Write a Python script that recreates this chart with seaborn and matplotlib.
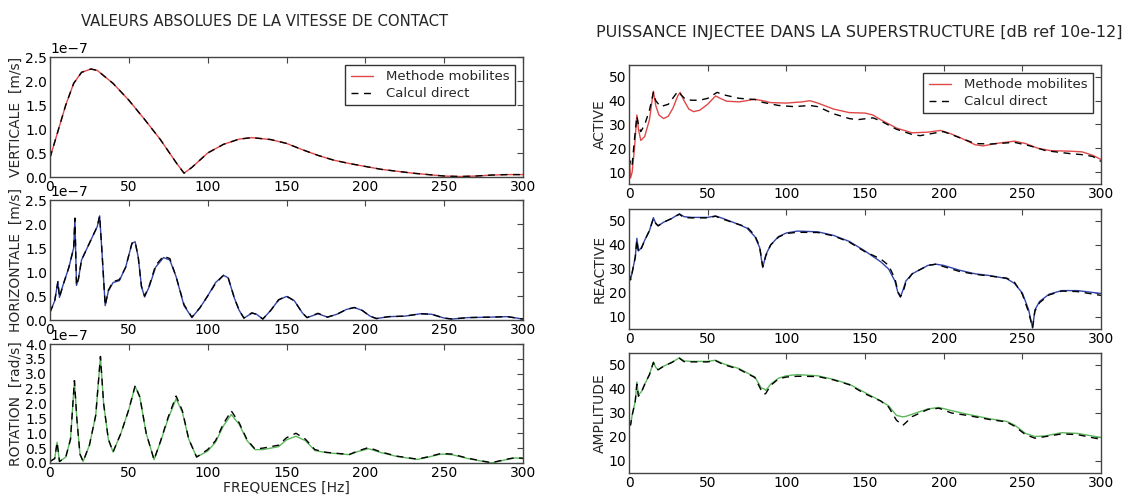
import numpy as np
import pandas as pd
import seaborn as sns
import matplotlib
matplotlib.use("Agg")
import matplotlib.pyplot as plt

# ---------------- DATA ----------------
# VERTICALE [m/s] (x1e-7)
vert_f = [0, 5, 10, 15, 20, 26, 30, 40, 50, 60, 70, 80, 85, 90, 100, 110, 120, 128, 140, 150,
          160, 170, 180, 190, 200, 210, 220, 230, 240, 250, 260, 270, 280, 290, 300]
vert_mob = [0.40, 0.95, 1.50, 1.95, 2.18, 2.25, 2.22, 1.95, 1.60, 1.20, 0.78, 0.30, 0.08, 0.20, 0.50,
            0.68, 0.79, 0.82, 0.78, 0.70, 0.57, 0.45, 0.35, 0.28, 0.22, 0.16, 0.12, 0.08, 0.05, 0.02,
            0.01, 0.02, 0.04, 0.05, 0.05]
vert_dir = [0.40, 0.95, 1.50, 1.95, 2.18, 2.25, 2.22, 1.95, 1.60, 1.20, 0.78, 0.30, 0.08, 0.20, 0.50,
            0.68, 0.79, 0.82, 0.78, 0.70, 0.57, 0.45, 0.35, 0.28, 0.22, 0.16, 0.12, 0.08, 0.05, 0.02,
            0.01, 0.02, 0.04, 0.05, 0.05]

# HORIZONTALE [m/s] (x1e-7)
hor_f = [0, 3, 5, 6, 8, 12, 15, 15.8, 16.8, 18, 20, 25, 30, 31.5, 33, 35, 37, 40, 44, 48, 52, 54,
         56, 58, 60, 63, 67, 72, 76, 80, 85, 90, 95, 100, 105, 110, 113, 117, 120, 123, 128, 131,
         135, 140, 145, 150, 155, 160, 163, 170, 176, 182, 188, 193, 198, 203, 207, 215, 225, 235,
         242, 250, 255, 265, 280, 290, 300]
hor_mob = [0.16, 0.40, 0.80, 0.47, 0.70, 1.10, 1.50, 2.12, 0.72, 0.85, 1.25, 1.60, 1.95, 2.17, 1.40,
           0.30, 0.60, 0.78, 0.82, 1.10, 1.60, 1.63, 1.30, 0.70, 0.48, 0.70, 1.10, 1.30, 1.25, 0.90,
           0.30, 0.05, 0.25, 0.50, 0.78, 0.93, 0.88, 0.45, 0.20, 0.04, 0.14, 0.12, 0.02, 0.20, 0.42,
           0.49, 0.40, 0.15, 0.05, 0.13, 0.06, 0.12, 0.22, 0.26, 0.20, 0.08, 0.03, 0.07, 0.08, 0.13,
           0.12, 0.04, 0.02, 0.05, 0.06, 0.07, 0.02]
hor_dir = [0.16, 0.40, 0.80, 0.47, 0.70, 1.10, 1.50, 2.12, 0.72, 0.85, 1.25, 1.60, 1.95, 2.17, 1.40,
           0.30, 0.62, 0.80, 0.84, 1.10, 1.60, 1.63, 1.30, 0.70, 0.50, 0.72, 1.14, 1.33, 1.28, 0.90,
           0.32, 0.06, 0.25, 0.50, 0.76, 0.93, 0.88, 0.45, 0.20, 0.04, 0.15, 0.12, 0.02, 0.20, 0.42,
           0.50, 0.40, 0.15, 0.05, 0.14, 0.06, 0.12, 0.22, 0.26, 0.20, 0.08, 0.03, 0.07, 0.08, 0.13,
           0.12, 0.04, 0.02, 0.05, 0.06, 0.07, 0.02]

# ROTATION [rad/s] (x1e-7)
rot_f = [0, 3, 4.5, 6, 10, 13, 15.5, 17, 19, 21, 25, 29, 32, 34, 37, 40, 45, 50, 54, 57, 61, 66,
         70, 75, 80, 84, 88, 93, 100, 105, 110, 115, 120, 125, 130, 135, 140, 145, 150, 156, 162,
         168, 175, 185, 190, 195, 202, 210, 220, 233, 240, 248, 255, 265, 280, 290, 295, 300]
rot_mob = [0.05, 0.15, 0.70, 0.05, 0.20, 0.80, 2.77, 1.50, 0.30, 0.05, 0.60, 1.60, 3.58, 2.00, 0.80,
           0.37, 1.00, 1.80, 2.58, 2.20, 1.00, 0.11, 0.70, 1.50, 2.16, 1.70, 0.80, 0.20, 0.40, 0.70,
           1.25, 1.63, 1.30, 0.75, 0.45, 0.45, 0.50, 0.55, 0.78, 0.90, 0.75, 0.42, 0.35, 0.30, 0.28,
           0.38, 0.48, 0.35, 0.22, 0.12, 0.20, 0.30, 0.28, 0.15, 0.00, 0.12, 0.17, 0.15]
rot_dir = [0.05, 0.15, 0.70, 0.05, 0.20, 0.80, 2.77, 1.50, 0.30, 0.05, 0.60, 1.60, 3.58, 2.00, 0.80,
           0.37, 1.00, 1.80, 2.60, 2.22, 1.00, 0.11, 0.72, 1.55, 2.25, 1.75, 0.80, 0.20, 0.45, 0.75,
           1.32, 1.75, 1.35, 0.78, 0.47, 0.50, 0.55, 0.60, 0.85, 1.00, 0.80, 0.45, 0.36, 0.31, 0.29,
           0.40, 0.52, 0.37, 0.23, 0.13, 0.21, 0.32, 0.30, 0.16, 0.01, 0.13, 0.18, 0.16]

# ACTIVE [dB]
act_f_mob = [0, 1, 2, 3.5, 5, 6, 7.5, 10, 13, 15.5, 17, 19, 22, 25, 28, 31, 32.5, 35, 38, 41, 45, 50,
             55, 58, 62, 70, 80, 85, 90, 100, 110, 115, 120, 130, 140, 150, 155, 160, 170, 180, 190,
             198, 205, 212, 220, 225, 233, 245, 252, 260, 268, 280, 288, 295, 300]
act_mob = [17.0, 7.5, 10.0, 20.0, 34.0, 28.0, 23.3, 25.0, 32.0, 44.0, 38.0, 34.0, 32.5, 33.5, 37.0,
           42.0, 43.5, 40.0, 36.5, 35.4, 36.0, 38.5, 42.0, 41.0, 39.8, 39.5, 40.6, 40.0, 39.2, 39.0,
           39.5, 40.0, 39.0, 36.5, 35.0, 34.8, 34.0, 32.0, 28.5, 26.5, 26.8, 27.5, 26.0, 24.0, 21.5,
           21.0, 22.0, 23.0, 22.0, 20.0, 19.0, 18.8, 18.5, 17.0, 15.3]
act_f_dir = [0, 1, 2, 3.5, 5, 6, 7.5, 10, 13, 15.5, 17, 20, 25, 30, 31.5, 33, 36, 40, 45, 50, 56, 60,
             70, 80, 85, 95, 105, 115, 120, 130, 140, 145, 155, 160, 170, 180, 185, 195, 200, 210,
             220, 230, 245, 255, 265, 280, 290, 295, 300]
act_dir = [12.0, 15.0, 13.0, 24.0, 33.5, 30.0, 27.0, 30.0, 36.0, 43.5, 40.0, 37.5, 38.5, 43.0, 44.0,
           42.5, 40.5, 40.2, 40.2, 41.0, 43.5, 42.5, 41.0, 40.5, 39.3, 38.0, 37.5, 38.0, 37.5, 34.5,
           32.5, 32.0, 32.8, 31.5, 28.0, 25.8, 25.3, 26.5, 27.0, 24.5, 22.0, 21.8, 22.5, 21.0, 19.0,
           17.8, 17.2, 16.5, 14.5]

# REACTIVE [dB]
rea_f = [0, 1, 2, 4, 5, 6, 8, 10, 13, 15.5, 17, 18.5, 22, 27, 32, 35, 40, 50, 55, 60, 70, 75, 80,
         83, 85, 87, 90, 95, 100, 107, 120, 130, 140, 150, 160, 165, 169, 171, 172.5, 174, 176, 180,
         190, 195, 200, 210, 220, 230, 240, 245, 250, 254, 256.5, 258, 261, 267, 275, 285, 300]
rea_mob = [28.5, 25.5, 28.5, 35.0, 42.8, 37.5, 39.0, 42.0, 46.0, 51.4, 49.0, 48.0, 49.5, 51.0, 53.0,
           51.8, 51.5, 51.5, 52.1, 51.0, 48.5, 47.0, 43.5, 39.0, 30.6, 36.0, 40.0, 43.5, 45.0, 45.8,
           45.5, 44.0, 41.5, 37.5, 33.0, 30.0, 25.0, 20.0, 18.3, 21.0, 25.0, 28.0, 31.5, 32.0, 31.5,
           29.5, 28.0, 27.2, 26.0, 24.0, 20.0, 13.0, 5.4, 13.0, 16.5, 19.5, 21.0, 21.0, 19.8]
rea_dir = [28.0, 25.5, 28.5, 35.0, 42.0, 37.0, 38.8, 42.0, 46.0, 51.0, 49.0, 48.0, 49.5, 51.0, 52.8,
           51.4, 51.3, 51.3, 52.0, 50.7, 48.5, 47.5, 44.0, 39.5, 31.0, 35.5, 40.0, 43.3, 44.8, 45.3,
           45.2, 43.8, 41.2, 37.2, 34.2, 31.5, 26.0, 20.5, 18.5, 20.0, 24.5, 28.0, 31.5, 32.0, 31.0,
           29.0, 27.8, 27.0, 26.2, 24.5, 19.5, 12.0, 5.5, 12.5, 16.0, 19.2, 20.8, 20.6, 19.0]

# AMPLITUDE [dB]
amp_f = [0, 1, 2, 4, 5, 6, 8, 10, 13, 15.5, 17, 18.5, 22, 27, 32, 35, 40, 50, 55, 60, 70, 80, 84,
         86, 87, 90, 95, 100, 107, 120, 130, 140, 150, 160, 165, 170, 174, 176, 180, 190, 197, 205,
         215, 230, 240, 245, 252, 258, 265, 275, 285, 300]
amp_mob = [26.0, 25.0, 29.0, 35.0, 42.9, 37.5, 39.0, 42.0, 46.0, 51.3, 49.0, 48.0, 49.5, 51.0, 53.0,
           51.7, 51.5, 51.5, 52.0, 50.5, 48.5, 45.0, 40.5, 40.0, 39.4, 42.0, 44.5, 45.5, 46.0, 45.5,
           44.0, 42.0, 38.5, 35.0, 33.0, 29.0, 28.4, 28.6, 29.5, 31.7, 32.3, 31.0, 29.5, 27.5, 26.5,
           25.0, 21.5, 20.2, 20.5, 21.8, 21.5, 19.8]
amp_dir = [25.5, 25.0, 29.0, 35.0, 42.0, 37.0, 38.8, 42.0, 46.0, 51.0, 49.0, 48.0, 49.5, 51.0, 52.8,
           51.4, 51.3, 51.3, 51.8, 50.2, 48.2, 44.8, 39.5, 37.8, 38.2, 41.5, 44.2, 45.0, 45.3, 45.2,
           43.8, 41.8, 38.0, 35.0, 32.5, 27.0, 24.8, 26.0, 28.5, 31.5, 32.0, 30.0, 29.0, 27.2, 26.3,
           24.5, 21.0, 19.5, 20.2, 21.3, 21.0, 19.0]

# ---------------- STYLE ----------------
sns.set_style("white")
plt.rcParams.update({
    "font.family": ["DejaVu Sans"],
    "font.size": 10,
    "axes.edgecolor": "#444444",
    "axes.linewidth": 1.0,
    "xtick.direction": "in",
    "ytick.direction": "in",
    "xtick.top": True,
    "ytick.right": True,
    "xtick.major.size": 4,
    "ytick.major.size": 4,
    "xtick.major.pad": 2.5,
    "ytick.major.pad": 2.0,
    "xtick.color": "#444444",
    "ytick.color": "#444444",
    "xtick.labelcolor": "black",
    "ytick.labelcolor": "black",
    "xtick.labelsize": 10,
    "ytick.labelsize": 10,
    "axes.labelsize": 10,
    "axes.labelpad": 1.5,
    "legend.fontsize": 9.5,
})

RED = "#e04848"
BLUE = "#3344aa"
GREEN = "#5cb85c"
DASH = (5, 4)

fig = plt.figure(figsize=(11.26, 4.95), dpi=100)
W, H = 1126.0, 495.0


def make_ax(x0, x1, y0, y1):
    return fig.add_axes([x0 / W, 1 - y1 / H, (x1 - x0) / W, (y1 - y0) / H])


def draw(ax, f1, y1, f2, y2, color, scale, legend=False):
    d1 = pd.DataFrame({"f": f1, "v": np.asarray(y1) * scale})
    d2 = pd.DataFrame({"f": f2, "v": np.asarray(y2) * scale})
    sns.lineplot(data=d1, x="f", y="v", ax=ax, color=color, lw=1.0, sort=False,
                 estimator=None, label="Methode mobilites" if legend else None)
    sns.lineplot(data=d2, x="f", y="v", ax=ax, color="black", lw=1.0, sort=False,
                 estimator=None, label="Calcul direct" if legend else None)
    ax.lines[-1].set_dashes(DASH)
    ax.set_xlim(0, 300)
    ax.set_xlabel("")
    if legend:
        leg = ax.legend(loc="upper right", frameon=True, fancybox=False,
                        edgecolor="#333333", framealpha=1.0, handlelength=1.7,
                        handletextpad=1.0, labelspacing=0.3, borderaxespad=0.6)
        leg.get_frame().set_linewidth(1.0)
        leg.get_lines()[1].set_dashes(DASH)


# Left column
LX0, LX1 = 50, 523
ax1 = make_ax(LX0, LX1, 57, 177)
draw(ax1, vert_f, vert_mob, vert_f, vert_dir, RED, 1e-7, legend=True)
ax1.set_ylim(0, 2.5e-7)
ax1.set_yticks(np.arange(0, 2.51e-7, 0.5e-7))
ax1.set_ylabel("VERTICALE  [m/s]")

ax2 = make_ax(LX0, LX1, 200, 320)
draw(ax2, hor_f, hor_mob, hor_f, hor_dir, BLUE, 1e-7)
ax2.set_ylim(0, 2.5e-7)
ax2.set_yticks(np.arange(0, 2.51e-7, 0.5e-7))
ax2.set_ylabel("HORIZONTALE  [m/s]")

ax3 = make_ax(LX0, LX1, 344, 463)
draw(ax3, rot_f, rot_mob, rot_f, rot_dir, GREEN, 1e-7)
ax3.set_ylim(0, 4.0e-7)
ax3.set_yticks(np.arange(0, 4.01e-7, 0.5e-7))
ax3.set_ylabel("ROTATION  [rad/s]")
ax3.set_xlabel("FREQUENCES [Hz]", labelpad=0)

for a in (ax1, ax2, ax3):
    a.set_xticks(range(0, 301, 50))
    a.yaxis.get_offset_text().set_fontsize(10)

# Right column
RX0, RX1 = 629, 1101
ax4 = make_ax(RX0, RX1, 65, 184)
draw(ax4, act_f_mob, act_mob, act_f_dir, act_dir, RED, 1.0, legend=True)
ax4.set_ylabel("ACTIVE")

ax5 = make_ax(RX0, RX1, 209, 329)
draw(ax5, rea_f, rea_mob, rea_f, rea_dir, BLUE, 1.0)
ax5.set_ylabel("REACTIVE")

ax6 = make_ax(RX0, RX1, 353, 473)
draw(ax6, amp_f, amp_mob, amp_f, amp_dir, GREEN, 1.0)
ax6.set_ylabel("AMPLITUDE")
ax6.set_xlabel("FREQUENCES [Hz]", fontsize=7, labelpad=4)

for a in (ax4, ax5, ax6):
    a.set_ylim(5, 55)
    a.set_yticks([10, 20, 30, 40, 50])
    a.set_xticks(range(0, 301, 50))

fig.text(265 / W, 1 - 22 / H, "VALEURS ABSOLUES DE LA VITESSE DE CONTACT",
         ha="center", va="center", fontsize=10.7)
fig.text(859 / W, 1 - 33 / H, "PUISSANCE INJECTEE DANS LA SUPERSTRUCTURE [dB ref 10e-12]",
         ha="center", va="center", fontsize=11.5)

fig.savefig("out.png", dpi=100, facecolor="white")
